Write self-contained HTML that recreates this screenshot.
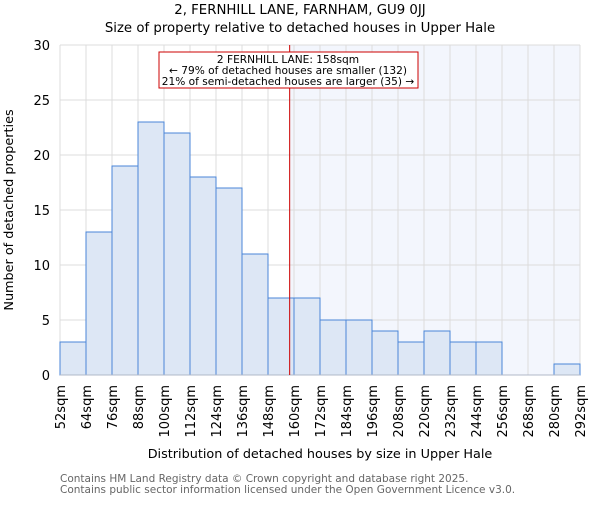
<!DOCTYPE html>
<html><head><meta charset="utf-8"><style>body{margin:0;background:#fff}svg text{font-family:"DejaVu Sans","Liberation Sans",sans-serif}</style></head>
<body>
<svg id="chart" width="600" height="500" xmlns="http://www.w3.org/2000/svg">
<text x="300" y="14" text-anchor="middle" font-size="13.3">2, FERNHILL LANE, FARNHAM, GU9 0JJ</text>
<text x="300" y="32" text-anchor="middle" font-size="13.3">Size of property relative to detached houses in Upper Hale</text>
<g id="plot"></g>
<text x="320" y="458" text-anchor="middle" font-size="12.8">Distribution of detached houses by size in Upper Hale</text>
<text transform="translate(13,210) rotate(-90)" text-anchor="middle" font-size="12.8">Number of detached properties</text>
<text x="60" y="482" font-size="10.5" fill="#666">Contains HM Land Registry data © Crown copyright and database right 2025.</text>
<text x="60" y="493" font-size="10.5" fill="#666">Contains public sector information licensed under the Open Government Licence v3.0.</text>
</svg>
<script>
const binEdges=[52,64,76,88,100,112,124,136,148,160,172,184,196,208,220,232,244,256,268,280,292];
const counts=[3,13,19,23,22,18,17,11,7,7,5,5,4,3,4,3,3,0,0,1];
const yTicks=[0,5,10,15,20,25,30];
const propertySize=158;
const NS="http://www.w3.org/2000/svg";
const L=60,R=580,T=45,B=375;
const xs=v=>L+(v-52)/(292-52)*(R-L);
const ys=v=>B-v/30*(B-T);
const g=document.getElementById('plot');
function mk(t,a){const e=document.createElementNS(NS,t);for(const k in a)e.setAttribute(k,a[k]);g.appendChild(e);return e;}
let e=mk('rect',{x:xs(propertySize),y:T,width:R-xs(propertySize),height:B-T,fill:'#f3f6fd'});


binEdges.forEach(v=>{e=mk('line',{x1:xs(v),x2:xs(v),y1:T,y2:B,stroke:'#dcdcdc','stroke-width':1});

});
yTicks.forEach(v=>{e=mk('line',{x1:L,x2:R,y1:ys(v),y2:ys(v),stroke:'#dcdcdc','stroke-width':1});


e=mk('text',{x:L-10,y:ys(v)+5,'text-anchor':'end','font-size':13});e.textContent=v;

});
counts.forEach((c,i)=>{if(c<=0)return;const x0=xs(binEdges[i]),x1=xs(binEdges[i+1]);
e=mk('rect',{x:x0,y:ys(c),width:x1-x0,height:B-ys(c),fill:'#dde7f5',stroke:'#4a86d8','stroke-width':1});

});
binEdges.forEach(v=>{const x=xs(v);e=mk('text',{transform:`translate(${x+5},385) rotate(-90)`,'text-anchor':'end','font-size':13});e.textContent=v+'sqm';

});
e=mk('line',{x1:L,x2:R,y1:B,y2:B,stroke:'#b0b8c8','stroke-width':1});


e=mk('line',{x1:xs(propertySize),x2:xs(propertySize),y1:T,y2:B,stroke:'#cc0000','stroke-width':1});


e=mk('rect',{x:159,y:52,width:259,height:36,fill:'#fff',stroke:'#cc0000','stroke-width':1});


["2 FERNHILL LANE: 158sqm","← 79% of detached houses are smaller (132)","21% of semi-detached houses are larger (35) →"].forEach((t,i)=>{
e=mk('text',{x:288,y:63+i*11,'text-anchor':'middle','font-size':10.6});e.textContent=t;

});
</script>
</body></html>
